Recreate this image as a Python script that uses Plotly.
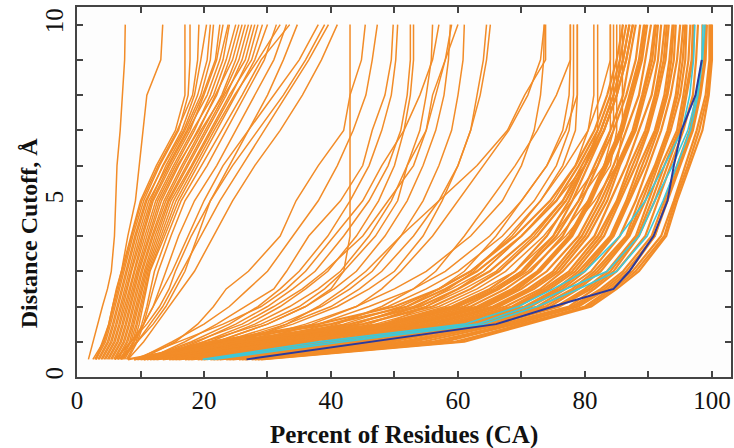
import plotly.graph_objects as go

# distance cutoffs (Angstrom) at which each model's coverage was read
cutoffs = [0.5, 1, 1.5, 2, 2.5, 3, 4, 5, 6, 7, 8, 9, 10]

# percent of residues under each cutoff, one list per model
left_cluster = [
    [1.8, 2.5, 3.2, 4.0, 4.8, 5.4, 5.9, 6.1, 6.3, 6.8, 7.1, 7.5, 7.6],
    [3.0, 4.0, 5.0, 5.6, 6.3, 7.0, 8.0, 9.2, 9.8, 10.4, 11.0, 13.2, 13.5],
    [2.5, 4.2, 5.0, 5.6, 6.2, 7.0, 8.5, 10.0, 12.5, 15.5, 17.0, 17.0, 17.0],
    [3.0, 4.5, 5.3, 6.0, 6.6, 7.3, 8.8, 10.5, 13.0, 16.0, 17.5, 17.8, 17.8],
    [2.8, 4.3, 5.1, 5.8, 6.5, 7.1, 8.6, 10.2, 12.8, 15.8, 18.2, 19.0, 19.2],
    [3.5, 5.0, 5.8, 6.5, 7.2, 7.8, 9.3, 11.0, 13.5, 16.5, 18.5, 19.5, 20.4],
    [3.3, 4.8, 5.6, 6.3, 6.9, 7.6, 9.1, 10.8, 13.6, 16.8, 19.0, 20.5, 21.0],
    [4.0, 5.5, 6.3, 7.0, 7.7, 8.4, 9.9, 11.6, 14.0, 17.0, 19.5, 21.0, 21.5],
    [3.8, 5.3, 6.1, 6.8, 7.5, 8.1, 9.6, 11.3, 14.3, 17.3, 19.8, 21.8, 22.5],
    [4.5, 6.0, 6.8, 7.5, 8.2, 8.9, 10.4, 12.0, 14.8, 17.8, 20.0, 22.0, 23.0],
    [4.3, 5.8, 6.6, 7.3, 8.0, 8.6, 10.2, 11.8, 14.5, 17.5, 20.5, 22.5, 23.8],
    [5.0, 6.5, 7.3, 8.0, 8.7, 9.4, 11.0, 12.7, 15.5, 18.5, 21.0, 23.0, 24.0],
    [4.8, 6.3, 7.1, 7.8, 8.5, 9.1, 10.7, 12.4, 15.2, 18.2, 21.5, 23.5, 25.0],
    [5.5, 7.0, 7.8, 8.5, 9.2, 9.8, 11.5, 13.3, 16.0, 19.0, 22.0, 24.0, 25.5],
    [5.3, 6.8, 7.6, 8.3, 8.9, 9.6, 11.3, 13.0, 15.8, 19.2, 21.8, 24.5, 26.0],
    [6.0, 7.5, 8.3, 9.0, 9.7, 10.3, 12.0, 14.0, 16.8, 19.8, 22.8, 25.0, 26.5],
    [5.8, 7.3, 8.1, 8.7, 9.4, 10.1, 11.8, 13.7, 16.5, 19.5, 23.0, 25.5, 27.0],
    [6.5, 8.0, 8.8, 9.5, 10.2, 10.8, 12.6, 14.5, 17.5, 20.5, 23.5, 26.0, 27.5],
    [6.3, 7.8, 8.6, 9.2, 9.9, 10.6, 12.3, 14.3, 17.2, 20.2, 23.2, 26.5, 28.0],
    [7.0, 8.5, 9.3, 10.0, 10.6, 11.2, 13.2, 15.2, 18.2, 21.3, 24.3, 27.0, 28.5],
    [6.8, 8.3, 9.0, 9.7, 10.4, 11.0, 12.9, 14.8, 18.0, 21.0, 24.0, 27.5, 29.2],
    [7.5, 9.0, 9.8, 10.4, 11.0, 11.5, 13.8, 16.0, 19.0, 22.0, 25.0, 28.0, 30.0],
    [7.3, 8.8, 9.5, 10.2, 10.8, 11.4, 13.5, 15.6, 18.6, 21.6, 24.8, 28.5, 32.0],
    [8.0, 9.5, 10.5, 11.2, 12.0, 12.8, 14.8, 17.0, 20.5, 23.5, 26.5, 29.5, 31.4],
    [7.8, 9.3, 10.2, 11.0, 11.6, 12.2, 14.2, 16.4, 19.6, 22.8, 26.0, 29.0, 33.5],
    [7.0, 9.0, 10.5, 12.0, 13.0, 14.0, 16.0, 18.5, 22.0, 25.0, 28.0, 31.0, 33.0],
    [6.0, 8.5, 11.0, 13.0, 14.5, 15.5, 18.0, 21.0, 24.0, 27.0, 30.0, 32.5, 34.7],
]

fan_curves = [
    [6.0, 8.5, 10.5, 12.0, 13.5, 15.0, 17.5, 20.0, 23.0, 27.0, 31.0, 35.0, 38.0],
    [6.5, 9.5, 12.0, 14.0, 15.5, 17.0, 19.0, 21.0, 24.5, 28.5, 32.5, 36.0, 39.0],
    [7.0, 9.5, 11.5, 13.5, 15.0, 16.5, 19.5, 22.5, 26.0, 29.5, 33.0, 36.5, 39.6],
    [8.0, 10.5, 12.5, 14.5, 16.5, 18.5, 21.5, 24.5, 28.0, 32.0, 35.5, 38.5, 41.0],
    [12.0, 22.0, 30.0, 36.0, 40.0, 42.0, 43.0, 43.0, 43.0, 43.0, 43.0, 43.0, 43.0],
    [10.0, 15.5, 19.0, 21.5, 23.5, 27.0, 32.0, 34.5, 38.0, 42.0, 43.0, 44.8, 45.4],
    [9.5, 15.0, 20.0, 24.0, 27.0, 30.0, 34.0, 38.0, 41.0, 43.5, 45.5, 46.5, 47.3],
    [11.0, 17.0, 22.0, 26.5, 31.0, 33.0, 36.5, 41.5, 45.0, 46.5, 48.5, 49.5, 49.8],
    [10.5, 18.0, 24.0, 28.5, 32.0, 35.0, 39.5, 43.0, 46.0, 48.0, 49.5, 50.2, 50.5],
    [9.0, 16.0, 23.0, 29.0, 33.0, 36.0, 40.5, 45.0, 48.0, 51.5, 54.0, 56.0, 57.0],
    [12.0, 19.0, 25.0, 30.0, 34.0, 37.5, 42.0, 46.0, 49.0, 51.0, 52.0, 52.5, 52.5],
    [11.5, 20.0, 27.0, 32.0, 36.0, 39.5, 44.0, 47.5, 50.0, 51.5, 52.5, 53.0, 53.0],
    [13.0, 21.0, 28.0, 33.5, 38.0, 41.5, 46.0, 49.5, 52.0, 54.0, 55.0, 55.8, 56.0],
    [11.0, 18.5, 26.0, 31.0, 35.5, 39.0, 45.0, 49.0, 53.0, 55.0, 56.5, 58.0, 59.0],
    [12.5, 22.0, 30.0, 36.0, 40.5, 44.0, 48.5, 52.0, 54.5, 56.5, 57.8, 58.5, 58.8],
    [10.0, 20.0, 29.0, 35.0, 39.0, 42.0, 47.0, 50.5, 52.0, 55.0, 56.0, 58.0, 60.0],
    [13.5, 23.0, 32.0, 38.5, 43.0, 46.5, 51.0, 54.5, 57.0, 59.0, 60.0, 60.8, 61.0],
    [12.5, 24.0, 33.0, 40.0, 44.5, 48.0, 53.0, 57.0, 60.0, 62.0, 63.0, 64.0, 64.5],
    [14.0, 25.0, 34.0, 41.0, 46.0, 50.0, 54.5, 57.5, 60.0, 62.0, 63.5, 64.5, 65.1],
    [18.0, 26.0, 33.0, 38.0, 42.0, 45.5, 51.0, 57.0, 63.0, 67.8, 70.5, 73.8, 73.8],
    [14.0, 26.0, 36.0, 44.0, 50.0, 55.0, 62.0, 67.0, 70.0, 72.0, 73.0, 73.5, 73.6],
    [15.0, 28.0, 37.0, 44.0, 48.0, 51.0, 56.0, 60.0, 64.0, 68.0, 71.0, 73.0, 73.6],
    [13.0, 27.0, 38.0, 46.0, 53.0, 58.0, 65.0, 70.0, 74.0, 76.5, 77.5, 77.7, 77.7],
    [16.0, 30.0, 41.0, 48.0, 53.0, 56.5, 61.0, 65.0, 69.0, 72.5, 75.5, 77.7, 77.7],
    [14.5, 28.0, 40.0, 49.0, 55.0, 60.0, 67.0, 72.0, 75.5, 77.5, 78.2, 78.2, 78.2],
    [15.0, 29.0, 42.0, 51.0, 57.0, 62.0, 68.5, 73.0, 76.5, 78.5, 78.8, 78.8, 78.8],
    [17.0, 32.0, 44.0, 52.0, 57.0, 61.0, 66.0, 70.0, 74.0, 77.0, 78.8, 78.8, 78.8],
    [15.5, 30.0, 43.0, 53.0, 59.0, 64.0, 70.0, 75.0, 78.5, 80.5, 81.4, 81.4, 81.4],
    [16.0, 31.0, 45.0, 55.0, 61.0, 66.0, 72.0, 76.5, 80.0, 82.0, 82.0, 82.0, 82.0],
    [16.5, 33.0, 47.0, 57.0, 63.0, 67.5, 73.5, 78.0, 82.0, 84.0, 84.0, 84.0, 84.0],
    [18.5, 37.0, 46.0, 53.5, 58.5, 62.5, 68.0, 73.0, 77.0, 80.5, 82.5, 84.0, 84.0],
    [17.0, 34.0, 48.0, 58.0, 64.0, 69.0, 75.0, 79.0, 83.0, 84.5, 84.5, 84.5, 84.5],
    [17.5, 35.0, 49.5, 59.5, 65.5, 70.0, 76.0, 80.5, 84.0, 85.0, 85.0, 85.0, 85.0],
    [19.0, 38.5, 48.5, 55.0, 60.0, 64.0, 70.0, 75.5, 80.0, 83.0, 85.0, 85.5, 85.5],
    [18.0, 36.0, 50.0, 60.0, 66.5, 71.0, 77.0, 81.5, 85.0, 85.9, 85.9, 85.9, 85.9],
]

band_curves = [
    [29.0, 61.0, 71.0, 81.0, 85.0, 88.5, 92.8, 94.5, 96.5, 98.5, 99.5, 100.0, 100.0],
    [28.5, 60.0, 70.0, 80.5, 84.5, 88.0, 92.5, 94.2, 96.2, 98.0, 99.3, 99.8, 99.8],
    [28.0, 59.5, 70.5, 80.0, 84.0, 87.5, 92.0, 94.0, 95.8, 97.6, 99.0, 99.6, 99.6],
    [27.5, 58.0, 69.0, 79.0, 83.5, 87.0, 91.0, 93.0, 95.0, 97.0, 98.2, 99.0, 99.2],
    [26.5, 57.0, 68.0, 78.5, 83.0, 86.5, 91.0, 92.8, 94.8, 96.8, 98.0, 98.8, 99.0],
    [26.0, 56.0, 68.5, 78.0, 82.5, 86.0, 90.5, 92.5, 94.5, 96.5, 97.5, 98.5, 98.5],
    [25.5, 54.5, 67.0, 77.5, 81.5, 85.0, 89.5, 91.5, 93.5, 95.5, 97.0, 97.5, 97.8],
    [24.5, 53.0, 66.0, 76.0, 81.0, 84.5, 88.5, 91.0, 93.0, 95.0, 96.0, 97.0, 97.2],
    [24.0, 52.0, 65.0, 75.8, 80.5, 84.0, 88.3, 90.5, 92.5, 94.8, 95.8, 96.8, 97.0],
    [23.5, 51.0, 65.5, 75.5, 80.0, 83.5, 88.0, 90.0, 92.0, 94.5, 95.5, 96.3, 96.6],
    [22.5, 49.5, 64.0, 74.5, 79.0, 82.5, 87.0, 89.5, 91.5, 93.5, 95.0, 95.8, 96.0],
    [22.0, 48.5, 63.5, 73.8, 78.5, 82.0, 86.8, 89.0, 91.2, 93.2, 94.6, 95.4, 95.8],
    [21.5, 48.0, 63.0, 73.0, 78.0, 81.5, 86.5, 88.5, 91.0, 93.0, 94.3, 95.0, 95.5],
    [21.0, 46.0, 62.0, 72.5, 77.0, 81.0, 85.5, 88.0, 90.0, 92.0, 93.5, 94.5, 95.0],
    [20.0, 44.5, 61.0, 71.5, 76.5, 80.0, 84.5, 87.0, 89.5, 91.5, 93.0, 94.0, 94.3],
    [19.5, 44.0, 60.5, 71.0, 76.0, 79.5, 84.2, 86.8, 89.0, 91.2, 92.8, 93.6, 94.0],
    [19.0, 43.0, 60.0, 70.5, 75.5, 79.0, 84.0, 86.5, 88.5, 91.0, 92.5, 93.3, 93.8],
    [18.0, 41.0, 59.0, 69.5, 74.5, 78.5, 83.0, 85.5, 88.0, 90.0, 91.5, 92.7, 93.2],
    [17.5, 40.0, 58.5, 69.0, 74.0, 78.0, 82.5, 85.2, 87.5, 89.8, 91.2, 92.4, 92.9],
    [17.0, 39.5, 58.0, 68.5, 73.5, 77.5, 82.0, 85.0, 87.0, 89.5, 91.0, 92.0, 92.6],
    [16.0, 38.0, 57.0, 67.5, 73.0, 76.5, 81.5, 84.0, 86.5, 88.5, 90.5, 91.5, 92.0],
    [15.5, 36.0, 56.0, 66.5, 72.0, 76.0, 80.5, 83.5, 85.5, 88.0, 89.5, 91.0, 91.5],
    [15.0, 35.5, 55.5, 66.0, 71.5, 75.5, 80.0, 83.0, 85.2, 87.8, 89.2, 90.6, 91.2],
    [14.5, 34.5, 55.0, 65.5, 71.0, 75.0, 79.5, 82.5, 85.0, 87.5, 89.0, 90.3, 91.0],
    [13.5, 33.0, 54.0, 64.5, 70.0, 74.0, 79.0, 82.0, 84.5, 86.5, 88.5, 89.5, 90.4],
    [12.5, 31.0, 53.0, 64.0, 69.5, 73.0, 78.0, 81.0, 83.5, 86.0, 87.5, 89.0, 89.8],
    [12.0, 30.0, 52.5, 63.5, 69.0, 72.8, 77.8, 80.8, 83.2, 85.8, 87.2, 88.8, 89.5],
    [11.5, 29.5, 52.0, 63.0, 68.5, 72.5, 77.5, 80.5, 83.0, 85.5, 87.0, 88.5, 89.3],
    [10.5, 28.0, 51.0, 62.0, 67.5, 71.5, 76.5, 79.5, 82.0, 84.5, 86.5, 88.0, 88.7],
    [10.0, 26.5, 50.0, 61.0, 66.5, 70.5, 75.5, 79.0, 81.5, 84.0, 86.0, 87.0, 88.0],
    [9.0, 24.5, 49.0, 60.0, 66.0, 70.0, 75.0, 78.0, 80.5, 83.0, 85.0, 86.5, 87.6],
    [8.0, 23.0, 48.0, 59.0, 65.0, 69.0, 74.0, 77.5, 80.0, 82.5, 84.5, 86.0, 87.0],
    [11.0, 26.0, 45.0, 56.0, 62.0, 66.5, 72.5, 77.0, 80.0, 83.0, 85.0, 86.5, 87.5],
    [10.5, 24.0, 43.0, 54.0, 60.0, 65.0, 71.5, 76.5, 79.5, 82.5, 84.5, 86.0, 87.0],
    [9.5, 22.0, 40.0, 52.0, 58.0, 63.0, 70.0, 75.5, 79.0, 82.0, 84.0, 85.5, 86.5],
    [9.0, 21.0, 38.0, 50.0, 57.0, 62.0, 69.0, 74.5, 78.5, 81.5, 83.5, 85.0, 86.0],
]

cyan_curves = [
    [19.8, 38.0, 61.0, 69.5, 75.0, 80.0, 85.5, 89.5, 92.5, 95.3, 96.5, 97.1, 97.3],
    [20.5, 40.0, 63.0, 71.0, 77.0, 83.5, 88.5, 91.0, 93.8, 96.2, 97.6, 98.4, 98.6],
    [21.5, 42.0, 64.0, 72.5, 79.0, 85.0, 89.8, 92.3, 94.5, 96.6, 97.8, 98.5, 98.9],
]

# best model, read up to 9 A
best_model = [26.7, 46.0, 66.0, 75.0, 84.5, 87.0, 90.8, 93.0, 94.0, 95.2, 97.4, 98.4]

ORANGE = "#F28C28"
CYAN = "#3EC8D8"
BLUE = "#2B3A9E"
FONT = "Liberation Serif"

fig = go.Figure()

for curve in left_cluster + fan_curves:
    fig.add_trace(go.Scatter(x=curve, y=cutoffs, mode="lines",
                             line=dict(color=ORANGE, width=1.5)))

for curve in band_curves:
    fig.add_trace(go.Scatter(x=curve, y=cutoffs, mode="lines",
                             line=dict(color=ORANGE, width=2.2)))

for curve in cyan_curves:
    fig.add_trace(go.Scatter(x=curve, y=cutoffs, mode="lines",
                             line=dict(color=CYAN, width=1.6)))

fig.add_trace(go.Scatter(x=best_model, y=cutoffs[:len(best_model)], mode="lines",
                         line=dict(color=BLUE, width=2)))

x_ticks = list(range(0, 101, 10))
x_text = [str(v) if v % 20 == 0 else "" for v in x_ticks]
y_ticks = list(range(0, 11))
y_text = [str(v) if v % 5 == 0 else "" for v in y_ticks]

axis_style = dict(showline=True, mirror="ticks", linecolor="#444", linewidth=1.5,
                  ticks="inside", ticklen=6, tickwidth=1.5, tickcolor="#444",
                  showgrid=False, zeroline=False, automargin=False,
                  tickfont=dict(family=FONT, size=25, color="#111"))

fig.update_xaxes(range=[0, 103], tickvals=x_ticks, ticktext=x_text, **axis_style)
fig.update_yaxes(range=[0, 10.5], tickvals=y_ticks, ticktext=y_text,
                 tickangle=-90, ticklabelstandoff=2, **axis_style)

fig.update_layout(
    width=734, height=448,
    margin=dict(l=77, r=3, t=7, b=71),
    paper_bgcolor="white", plot_bgcolor="#fdfdfd",
    showlegend=False,
    annotations=[
        dict(text="<b>Percent of Residues (CA)</b>", xref="paper", yref="paper",
             x=0.5, y=-0.157, xanchor="center", yanchor="middle", showarrow=False,
             font=dict(family=FONT, size=25, color="#111")),
        dict(text="<b>Distance Cutoff, Å</b>", xref="paper", yref="paper",
             x=-0.074, y=0.39, xanchor="center", yanchor="middle", showarrow=False,
             textangle=-90, font=dict(family=FONT, size=24, color="#111")),
    ],
)

# page body has a default margin; drop it so the figure sits at the window corner
fig.write_html("out.html", config={"displayModeBar": False},
               post_script="document.body.style.margin='0';")
